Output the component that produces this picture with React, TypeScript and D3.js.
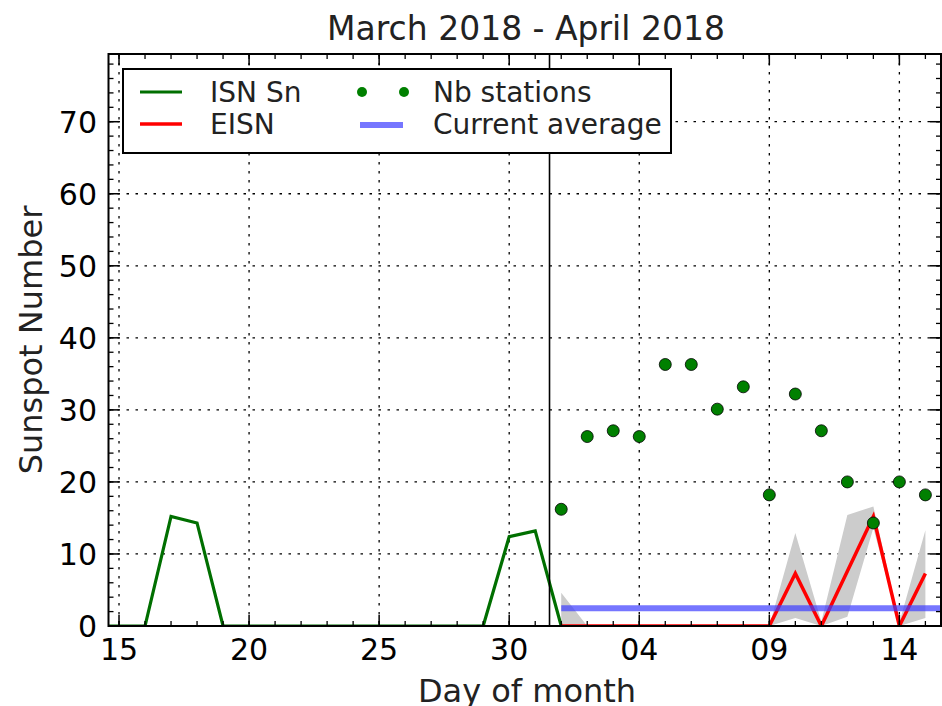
import * as d3 from "d3";

// ISN Sn (daily), EISN with its spread, number of stations
const isnDates = [
  "2018-03-14", "2018-03-15", "2018-03-16", "2018-03-17", "2018-03-18",
  "2018-03-19", "2018-03-20", "2018-03-21", "2018-03-22", "2018-03-23",
  "2018-03-24", "2018-03-25", "2018-03-26", "2018-03-27", "2018-03-28",
  "2018-03-29", "2018-03-30", "2018-03-31", "2018-04-01",
];
const isnValues = [0, 0, 0, 15.2, 14.3, 0, 0, 0, 0, 0, 0, 0, 0, 0, 0, 0, 12.4, 13.2, 0];

const eisnDates = [
  "2018-04-01", "2018-04-02", "2018-04-03", "2018-04-04", "2018-04-05",
  "2018-04-06", "2018-04-07", "2018-04-08", "2018-04-09", "2018-04-10",
  "2018-04-11", "2018-04-12", "2018-04-13", "2018-04-14", "2018-04-15",
];
const eisnValues = [0, 0, 0, 0, 0, 0, 0, 0, 0, 7.3, 0, 7.6, 15.2, 0, 7.3];
const eisnUpper = [4.6, 0, 0, 0, 0, 0, 0, 0, 0, 12.9, 0.6, 15.4, 16.6, 0.5, 13.3];
const eisnLower = [0, 0, 0, 0, 0, 0, 0, 0, 0, 1.1, 0, 1.3, 13.6, 0, 1.1];
const stationCounts = [16.2, 26.3, 27.1, 26.3, 36.3, 36.3, 30.1, 33.2, 18.2, 32.2, 27.1, 20.0, 14.3, 20.0, 18.2];

const averageDates = ["2018-04-01", "2018-04-17"];
const averageValue = 2.45;
const nowMarker = "2018-03-31T13:12:00Z";

const xMajorTicks = ["2018-03-15", "2018-03-20", "2018-03-25", "2018-03-30", "2018-04-04", "2018-04-09", "2018-04-14"];
const yMajorTicks = [0, 10, 20, 30, 40, 50, 60, 70];

const parse = (s: string) => new Date(s.length === 10 ? s + "T00:00:00Z" : s);

export default function App() {
  const width = 942;
  const height = 706;
  const left = 108.5;
  const right = 941;
  const top = 54;
  const bottom = 626;

  const x = d3
    .scaleUtc()
    .domain([new Date(Date.UTC(2018, 2, 14, 14, 18)), new Date(Date.UTC(2018, 3, 15, 14, 24))])
    .range([left, right]);
  const y = d3.scaleLinear().domain([0, 79.4]).range([bottom, top]);

  const fmt = d3.utcFormat("%d");
  const xMinor = d3.utcDay.range(x.domain()[0], x.domain()[1]);
  const yMinor = d3.range(0, 80, 2);

  const line = d3
    .line<[Date, number]>()
    .x((d) => x(d[0]))
    .y((d) => y(d[1]));

  const isn: [Date, number][] = isnDates.map((d, i) => [parse(d), isnValues[i]]);
  const eisn: [Date, number][] = eisnDates.map((d, i) => [parse(d), eisnValues[i]]);
  const avg: [Date, number][] = averageDates.map((d) => [parse(d), averageValue]);

  const band = d3
    .area<number>()
    .x((_, i) => x(parse(eisnDates[i])))
    .y0((_, i) => y(eisnLower[i]))
    .y1((_, i) => y(eisnUpper[i]));

  const font = "'DejaVu Sans', sans-serif";
  const gridDash = "2.5,6.5";
  const green = "#006f00";
  const blueLine = "rgba(60,60,255,0.7)";

  return (
    <svg
      width={width}
      height={height}
      style={{ position: "absolute", left: 0, top: 0, background: "#fff" }}
      fontFamily={font}
    >
      <defs>
        <clipPath id="plot">
          <rect x={left} y={top} width={right - left} height={bottom - top} />
        </clipPath>
      </defs>

      {/* grid */}
      {xMajorTicks.map((t) => (
        <line key={"gx" + t} x1={x(parse(t))} x2={x(parse(t))} y1={top} y2={bottom}
          stroke="#000" strokeWidth={1.3} strokeDasharray={gridDash} />
      ))}
      {yMajorTicks.map((t) => (
        <line key={"gy" + t} x1={left} x2={right} y1={y(t)} y2={y(t)}
          stroke="#000" strokeWidth={1.3} strokeDasharray={gridDash} />
      ))}

      <g clipPath="url(#plot)">
        <path d={band(eisnValues) ?? ""} fill="#cccccc" />
        <path d={line(isn) ?? ""} fill="none" stroke={green} strokeWidth={3.2} strokeLinejoin="miter" />
        <path d={line(eisn) ?? ""} fill="none" stroke="#ff0000" strokeWidth={3.5} />
        <path d={line(avg) ?? ""} fill="none" stroke={blueLine} strokeWidth={6} />
        {stationCounts.map((v, i) => (
          <circle key={"n" + i} cx={x(parse(eisnDates[i]))} cy={y(v)} r={6}
            fill="#008000" stroke="#000" strokeWidth={0.8} />
        ))}
      </g>

      <line x1={x(parse(nowMarker))} x2={x(parse(nowMarker))} y1={top} y2={bottom}
        stroke="#000" strokeWidth={1.6} />

      {/* ticks, inward, on all four sides */}
      {xMinor.map((t) => (
        <g key={"xm" + t.getTime()}>
          <line x1={x(t)} x2={x(t)} y1={bottom} y2={bottom - 5} stroke="#000" strokeWidth={1.3} />
          <line x1={x(t)} x2={x(t)} y1={top} y2={top + 5} stroke="#000" strokeWidth={1.3} />
        </g>
      ))}
      {xMajorTicks.map((t) => (
        <g key={"xM" + t}>
          <line x1={x(parse(t))} x2={x(parse(t))} y1={bottom} y2={bottom - 11} stroke="#000" strokeWidth={1.5} />
          <line x1={x(parse(t))} x2={x(parse(t))} y1={top} y2={top + 11} stroke="#000" strokeWidth={1.5} />
          <text x={x(parse(t))} y={660} textAnchor="middle" fontSize={30} fill="#000">
            {fmt(parse(t))}
          </text>
        </g>
      ))}
      {yMinor.map((t) => (
        <g key={"ym" + t}>
          <line x1={left} x2={left + 5} y1={y(t)} y2={y(t)} stroke="#000" strokeWidth={1.3} />
          <line x1={right} x2={right - 5} y1={y(t)} y2={y(t)} stroke="#000" strokeWidth={1.3} />
        </g>
      ))}
      {yMajorTicks.map((t) => (
        <g key={"yM" + t}>
          <line x1={left} x2={left + 11} y1={y(t)} y2={y(t)} stroke="#000" strokeWidth={1.5} />
          <line x1={right} x2={right - 11} y1={y(t)} y2={y(t)} stroke="#000" strokeWidth={1.5} />
          <text x={97} y={y(t) + 11} textAnchor="end" fontSize={30} fill="#000">
            {t}
          </text>
        </g>
      ))}

      <rect x={left} y={top} width={right - left} height={bottom - top} fill="none" stroke="#000" strokeWidth={2} />

      {/* legend */}
      <g>
        <rect x={123} y={69} width={548} height={84} fill="#fff" stroke="#000" strokeWidth={2} />
        <line x1={140} x2={182} y1={92} y2={92} stroke={green} strokeWidth={3.2} />
        <text x={210} y={102} fontSize={28} fill="#222">ISN Sn</text>
        <line x1={140} x2={182} y1={124} y2={124} stroke="#ff0000" strokeWidth={3.5} />
        <text x={210} y={134} fontSize={28} fill="#222">EISN</text>
        <circle cx={362} cy={92} r={5} fill="#008000" />
        <circle cx={404} cy={92} r={5} fill="#008000" />
        <text x={433} y={102} fontSize={28} fill="#222">Nb stations</text>
        <line x1={360} x2={403} y1={125} y2={125} stroke={blueLine} strokeWidth={6} />
        <text x={433} y={134} fontSize={28} fill="#222">Current average</text>
      </g>

      <text x={526} y={40} textAnchor="middle" fontSize={33} fill="#222">
        March 2018 - April 2018
      </text>
      <text x={527} y={702} textAnchor="middle" fontSize={32} fill="#222">
        Day of month
      </text>
      <text transform="translate(42,340) rotate(-90)" textAnchor="middle" fontSize={32} fill="#222">
        Sunspot Number
      </text>
    </svg>
  );
}
